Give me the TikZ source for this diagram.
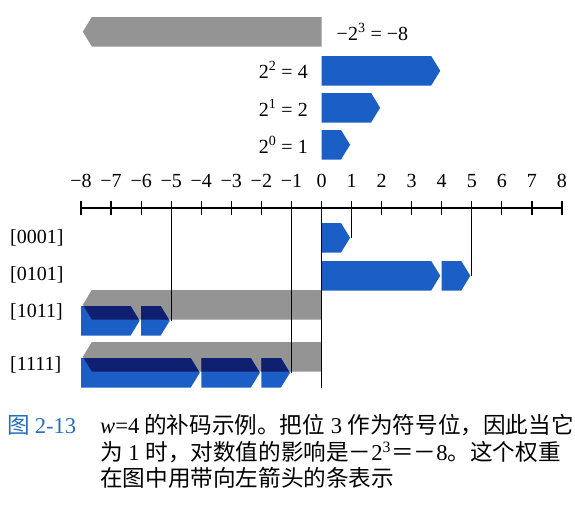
\documentclass[tikz,border=0pt]{standalone}
\usepackage{fontspec}
\setmainfont{Liberation Serif}
\newfontfamily\cjk{Noto Sans CJK SC}
\usetikzlibrary{positioning}
\definecolor{barblue}{RGB}{26,94,198}
\definecolor{bardark}{RGB}{16,32,112}
\definecolor{bargrey}{RGB}{148,148,148}
\definecolor{capblue}{RGB}{40,110,190}

\begin{document}
\begin{tikzpicture}[x=1pt,y=-1pt,
	posbar/.style={fill=barblue},
	negbar/.style={fill=bargrey},
	lap/.style={fill=bardark},
	num/.style={font=\fontsize{20}{20}\selectfont, inner sep=0pt},
	captext/.style={font=\fontsize{22.6}{22.6}\selectfont\cjk, inner sep=0pt, anchor=west}]
	\useasboundingbox (0,0) rectangle (575,515);
	\begin{scope}[shift={(321.5,0)},x=30.06pt]
		\foreach \y in {17,290,342}
		{
			\fill[negbar] (0,\y) -- (-7.64,\y) -- ++(-0.3,14.75) -- ++(0.3,14.75) -- (0,\y+29.5) -- cycle;
		}
		\foreach \b/\y in {4/56,2/93,1/130}
		{
			\fill[posbar] (0,\y) -- (\b-0.35,\y) -- ++(0.3,14.75) -- ++(-0.3,14.75) -- (0,\y+29.5) -- cycle;
		}
		\foreach \a/\b/\y in {0/1/223,0/4/261,4/5/261,-8/-6/306,-6/-5/306,-8/-4/358,-4/-2/358,-2/-1/358}
		{
			\fill[posbar] (\a,\y) -- (\b-0.35,\y) -- ++(0.3,14.75) -- ++(-0.3,14.75) -- (\a,\y+29.5) -- cycle;
		}
		\foreach \y/\list in {290/{-8/-6,-6/-5},342/{-8/-4,-4/-2,-2/-1}}
		{
			\begin{scope}
				\clip (0,\y) -- (-7.64,\y) -- ++(-0.3,14.75) -- ++(0.3,14.75) -- (0,\y+29.5) -- cycle;
				\foreach \a/\b in \list
					\fill[lap] (\a,\y+16) -- (\b-0.35,\y+16) -- ++(0.3,14.75) -- ++(-0.3,14.75) -- (\a,\y+45.5) -- cycle;
			\end{scope}
		}
		\coordinate (tipA) at (0.95,237.75);
		\coordinate (tipB) at (4.95,275.75);
		\coordinate (tipC) at (-5.05,320.75);
		\coordinate (tipD) at (-1.05,372.75);
		\coordinate (zero) at (0,388);

		\draw[line width=1.3pt] (-8,208) -- (8,208);
		\foreach \v in {-8,...,8}
		{
			\pgfmathtruncatemacro{\num}{abs(\v)}
			\coordinate (t\v) at (\v,201);
			\draw[line width=1.2pt] (t\v) -- ++(0,14);
			\ifnum\v<0
				\node[num, above=13pt of t\v] (l\v) {−\num};
			\else
				\node[num, above=13pt of t\v] (l\v) {\num};
			\fi
		}
		\foreach \v/\p in {-5/tipC,-1/tipD,0/zero,1/tipA,5/tipB}
			\draw[line width=1.2pt] (t\v) -- (t\v |- \p);

		\node[num, anchor=west] (w3) at (0.5,32) {−2\textsuperscript{3} = −8};
		\node[num, anchor=east] (w2) at (-0.45,70) {2\textsuperscript{2} = 4};
		\node[num, anchor=east] (w1) at (-0.45,108) {2\textsuperscript{1} = 2};
		\node[num, anchor=east] (w0) at (-0.45,145) {2\textsuperscript{0} = 1};
	\end{scope}

	\node[num, anchor=west] (r1) at (10,238) {[0001]};
	\node[num, anchor=west] (r5) at (10,275) {[0101]};
	\node[num, anchor=west] (r11) at (10,312) {[1011]};
	\node[num, anchor=west] (r15) at (10,365) {[1111]};

	\node[captext, text=capblue] (fig) at (7,425) {图 {\rmfamily 2-13}};
	\node[captext] (c1) at (100,425) {{\rmfamily\itshape w}{\rmfamily =4} 的补码示例。把位{\rmfamily\ 3 }作为符号位，因此当它};
	\node[captext] (c2) at (100,452) {为{\rmfamily\ 1 }时，对数值的影响是－{\rmfamily 2\textsuperscript{3}}＝－{\rmfamily 8}。这个权重};
	\node[captext] (c3) at (100,478) {在图中用带向左箭头的条表示};
\end{tikzpicture}
\end{document}
